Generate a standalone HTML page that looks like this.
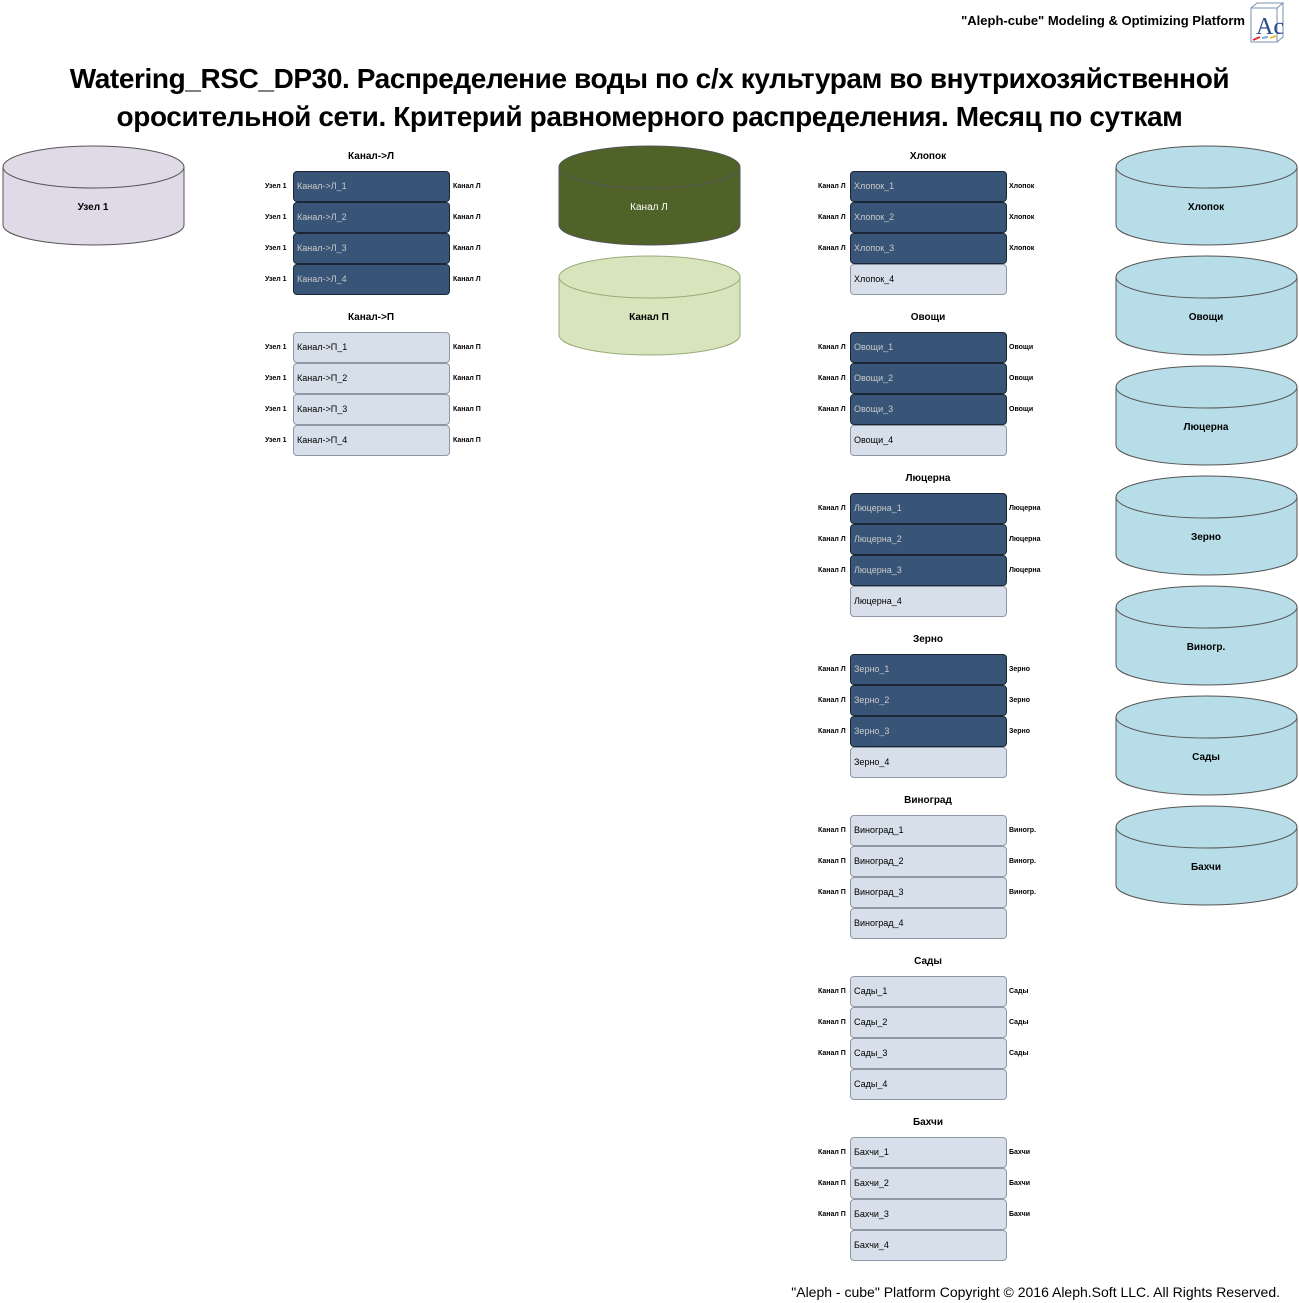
<!DOCTYPE html>
<html><head><meta charset="utf-8"><style>
body{margin:0;width:1299px;height:1303px;position:relative;background:#fff;font-family:"Liberation Sans",sans-serif;overflow:hidden}
.a{position:absolute;white-space:nowrap}
.t{font-weight:bold;font-size:28px;left:0;width:1299px;text-align:center;letter-spacing:-0.4px}
.gt{font-size:10px;font-weight:bold;width:156px;text-align:center}
.b{position:absolute;border-radius:4px;font-size:9px;line-height:29px;padding-left:3px;box-sizing:border-box;width:157px;height:31px}
.d{background:#385577;border:1px solid #1a2636;color:#c9c9c9}
.l{background:#d6dfea;border:1px solid #8e98a4;color:#000}
.s{font-size:7px;font-weight:bold;line-height:31px}
.cy{position:absolute}
</style></head><body>
<div class="a" style="right:54px;top:13px;font-size:13px;font-weight:bold">"Aleph-cube" Modeling &amp; Optimizing Platform</div>
<svg class="cy" style="left:1250px;top:2px" width="34" height="42"><rect x="1" y="6" width="26" height="34" fill="#fff" stroke="#7a8fb0"/><path d="M1 6 L7 1 L33 1 L27 6 M27 40 L33 35 L33 1" fill="none" stroke="#7a8fb0"/><text x="6" y="32" font-size="24" font-family="Liberation Serif" fill="#2a4a8a">Ac</text><path d="M3 38 L10 35" stroke="#e03030" stroke-width="2"/><path d="M12 36 L18 35" stroke="#70b0e0" stroke-width="2"/><path d="M20 36 L26 34" stroke="#f0c040" stroke-width="2"/></svg>
<div class="a t" style="top:63px">Watering_RSC_DP30. Распределение воды по с/х культурам во внутрихозяйственной</div>
<div class="a t" style="top:101px">оросительной сети. Критерий равномерного распределения. Месяц по суткам</div>
<div class="a" style="right:19px;top:1284px;font-size:14px">"Aleph - cube" Platform Copyright © 2016 Aleph.Soft LLC. All Rights Reserved.</div>

<svg class="cy" style="left:0;top:143px" width="1299" height="770">
<defs><g id="c"><path d="M1 22 L1 80 A90.5 20 0 0 0 182 80 L182 22" /><ellipse cx="91.5" cy="22" rx="90.5" ry="21"/></g></defs>
<g stroke="#555" stroke-width="1" font-family="Liberation Sans" font-weight="bold" font-size="10" text-anchor="middle">
<g transform="translate(2,2)" fill="#e0d9e8"><use href="#c"/><text x="91" y="65" fill="#000" stroke="none">Узел 1</text></g>
<g transform="translate(558,2)" fill="#4f6228"><use href="#c"/><text x="91" y="65" fill="#fff" stroke="none" font-weight="normal">Канал Л</text></g>
<g transform="translate(558,112)" fill="#d7e4bc"><use href="#c" stroke="#9aab7a"/><text x="91" y="65" fill="#000" stroke="none">Канал П</text></g>
<g fill="#b7dde8">
<g transform="translate(1115,2)"><use href="#c"/><text x="91" y="65" fill="#000" stroke="none">Хлопок</text></g>
<g transform="translate(1115,112)"><use href="#c"/><text x="91" y="65" fill="#000" stroke="none">Овощи</text></g>
<g transform="translate(1115,222)"><use href="#c"/><text x="91" y="65" fill="#000" stroke="none">Люцерна</text></g>
<g transform="translate(1115,332)"><use href="#c"/><text x="91" y="65" fill="#000" stroke="none">Зерно</text></g>
<g transform="translate(1115,442)"><use href="#c"/><text x="91" y="65" fill="#000" stroke="none">Виногр.</text></g>
<g transform="translate(1115,552)"><use href="#c"/><text x="91" y="65" fill="#000" stroke="none">Сады</text></g>
<g transform="translate(1115,662)"><use href="#c"/><text x="91" y="65" fill="#000" stroke="none">Бахчи</text></g>
</g></g></svg>

<div class="a gt" style="left:293px;top:151px">Канал-&gt;Л</div>
<div class="b d" style="left:293px;top:171px">Канал-&gt;Л_1</div><div class="a s" style="left:265px;top:171px">Узел 1</div><div class="a s" style="left:453px;top:171px">Канал Л</div>
<div class="b d" style="left:293px;top:202px">Канал-&gt;Л_2</div><div class="a s" style="left:265px;top:202px">Узел 1</div><div class="a s" style="left:453px;top:202px">Канал Л</div>
<div class="b d" style="left:293px;top:233px">Канал-&gt;Л_3</div><div class="a s" style="left:265px;top:233px">Узел 1</div><div class="a s" style="left:453px;top:233px">Канал Л</div>
<div class="b d" style="left:293px;top:264px">Канал-&gt;Л_4</div><div class="a s" style="left:265px;top:264px">Узел 1</div><div class="a s" style="left:453px;top:264px">Канал Л</div>
<div class="a gt" style="left:293px;top:312px">Канал-&gt;П</div>
<div class="b l" style="left:293px;top:332px">Канал-&gt;П_1</div><div class="a s" style="left:265px;top:332px">Узел 1</div><div class="a s" style="left:453px;top:332px">Канал П</div>
<div class="b l" style="left:293px;top:363px">Канал-&gt;П_2</div><div class="a s" style="left:265px;top:363px">Узел 1</div><div class="a s" style="left:453px;top:363px">Канал П</div>
<div class="b l" style="left:293px;top:394px">Канал-&gt;П_3</div><div class="a s" style="left:265px;top:394px">Узел 1</div><div class="a s" style="left:453px;top:394px">Канал П</div>
<div class="b l" style="left:293px;top:425px">Канал-&gt;П_4</div><div class="a s" style="left:265px;top:425px">Узел 1</div><div class="a s" style="left:453px;top:425px">Канал П</div>

<div class="a gt" style="left:850px;top:151px">Хлопок</div>
<div class="b d" style="left:850px;top:171px">Хлопок_1</div><div class="a s" style="left:818px;top:171px">Канал Л</div><div class="a s" style="left:1009px;top:171px">Хлопок</div>
<div class="b d" style="left:850px;top:202px">Хлопок_2</div><div class="a s" style="left:818px;top:202px">Канал Л</div><div class="a s" style="left:1009px;top:202px">Хлопок</div>
<div class="b d" style="left:850px;top:233px">Хлопок_3</div><div class="a s" style="left:818px;top:233px">Канал Л</div><div class="a s" style="left:1009px;top:233px">Хлопок</div>
<div class="b l" style="left:850px;top:264px">Хлопок_4</div>
<div class="a gt" style="left:850px;top:312px">Овощи</div>
<div class="b d" style="left:850px;top:332px">Овощи_1</div><div class="a s" style="left:818px;top:332px">Канал Л</div><div class="a s" style="left:1009px;top:332px">Овощи</div>
<div class="b d" style="left:850px;top:363px">Овощи_2</div><div class="a s" style="left:818px;top:363px">Канал Л</div><div class="a s" style="left:1009px;top:363px">Овощи</div>
<div class="b d" style="left:850px;top:394px">Овощи_3</div><div class="a s" style="left:818px;top:394px">Канал Л</div><div class="a s" style="left:1009px;top:394px">Овощи</div>
<div class="b l" style="left:850px;top:425px">Овощи_4</div>
<div class="a gt" style="left:850px;top:473px">Люцерна</div>
<div class="b d" style="left:850px;top:493px">Люцерна_1</div><div class="a s" style="left:818px;top:493px">Канал Л</div><div class="a s" style="left:1009px;top:493px">Люцерна</div>
<div class="b d" style="left:850px;top:524px">Люцерна_2</div><div class="a s" style="left:818px;top:524px">Канал Л</div><div class="a s" style="left:1009px;top:524px">Люцерна</div>
<div class="b d" style="left:850px;top:555px">Люцерна_3</div><div class="a s" style="left:818px;top:555px">Канал Л</div><div class="a s" style="left:1009px;top:555px">Люцерна</div>
<div class="b l" style="left:850px;top:586px">Люцерна_4</div>
<div class="a gt" style="left:850px;top:634px">Зерно</div>
<div class="b d" style="left:850px;top:654px">Зерно_1</div><div class="a s" style="left:818px;top:654px">Канал Л</div><div class="a s" style="left:1009px;top:654px">Зерно</div>
<div class="b d" style="left:850px;top:685px">Зерно_2</div><div class="a s" style="left:818px;top:685px">Канал Л</div><div class="a s" style="left:1009px;top:685px">Зерно</div>
<div class="b d" style="left:850px;top:716px">Зерно_3</div><div class="a s" style="left:818px;top:716px">Канал Л</div><div class="a s" style="left:1009px;top:716px">Зерно</div>
<div class="b l" style="left:850px;top:747px">Зерно_4</div>
<div class="a gt" style="left:850px;top:795px">Виноград</div>
<div class="b l" style="left:850px;top:815px">Виноград_1</div><div class="a s" style="left:818px;top:815px">Канал П</div><div class="a s" style="left:1009px;top:815px">Виногр.</div>
<div class="b l" style="left:850px;top:846px">Виноград_2</div><div class="a s" style="left:818px;top:846px">Канал П</div><div class="a s" style="left:1009px;top:846px">Виногр.</div>
<div class="b l" style="left:850px;top:877px">Виноград_3</div><div class="a s" style="left:818px;top:877px">Канал П</div><div class="a s" style="left:1009px;top:877px">Виногр.</div>
<div class="b l" style="left:850px;top:908px">Виноград_4</div>
<div class="a gt" style="left:850px;top:956px">Сады</div>
<div class="b l" style="left:850px;top:976px">Сады_1</div><div class="a s" style="left:818px;top:976px">Канал П</div><div class="a s" style="left:1009px;top:976px">Сады</div>
<div class="b l" style="left:850px;top:1007px">Сады_2</div><div class="a s" style="left:818px;top:1007px">Канал П</div><div class="a s" style="left:1009px;top:1007px">Сады</div>
<div class="b l" style="left:850px;top:1038px">Сады_3</div><div class="a s" style="left:818px;top:1038px">Канал П</div><div class="a s" style="left:1009px;top:1038px">Сады</div>
<div class="b l" style="left:850px;top:1069px">Сады_4</div>
<div class="a gt" style="left:850px;top:1117px">Бахчи</div>
<div class="b l" style="left:850px;top:1137px">Бахчи_1</div><div class="a s" style="left:818px;top:1137px">Канал П</div><div class="a s" style="left:1009px;top:1137px">Бахчи</div>
<div class="b l" style="left:850px;top:1168px">Бахчи_2</div><div class="a s" style="left:818px;top:1168px">Канал П</div><div class="a s" style="left:1009px;top:1168px">Бахчи</div>
<div class="b l" style="left:850px;top:1199px">Бахчи_3</div><div class="a s" style="left:818px;top:1199px">Канал П</div><div class="a s" style="left:1009px;top:1199px">Бахчи</div>
<div class="b l" style="left:850px;top:1230px">Бахчи_4</div>
</body></html>
